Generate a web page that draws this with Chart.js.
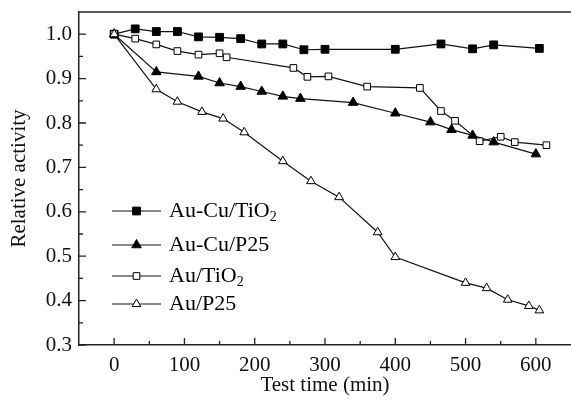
<!DOCTYPE html>
<html>
<head>
<meta charset="utf-8">
<script src="https://cdn.jsdelivr.net/npm/chart.js@4.4.0/dist/chart.umd.min.js"></script>
<style>
  html, body { margin: 0; padding: 0; background: #fff; }
  #wrap { width: 571px; height: 410px; }
</style>
</head>
<body>
<div id="wrap"><canvas id="activityChart" width="571" height="410"></canvas></div>
<script>
// Values
const auCuTiO2X = [0, 30, 60, 90, 120, 150, 180, 210, 240, 270, 300, 400, 465, 510, 540, 605];
const auCuTiO2Y = [1.0, 1.012, 1.006, 1.006, 0.994, 0.993, 0.99, 0.978, 0.978, 0.965, 0.966, 0.966, 0.978, 0.967, 0.976, 0.968];

const auCuP25X = [0, 60, 120, 150, 180, 210, 240, 265, 340, 400, 450, 480, 510, 540, 600];
const auCuP25Y = [1.0, 0.915, 0.905, 0.89, 0.882, 0.871, 0.86, 0.855, 0.846, 0.822, 0.802, 0.785, 0.772, 0.757, 0.73];

const auTiO2X = [0, 30, 60, 90, 120, 150, 160, 255, 275, 305, 360, 435, 465, 485, 520, 550, 570, 615];
const auTiO2Y = [1.0, 0.99, 0.977, 0.962, 0.954, 0.957, 0.948, 0.924, 0.904, 0.905, 0.882, 0.879, 0.827, 0.805, 0.759, 0.769, 0.757, 0.75];

const auP25X = [0, 60, 90, 125, 155, 185, 240, 280, 320, 375, 400, 500, 530, 560, 590, 605];
const auP25Y = [1.0, 0.876, 0.848, 0.825, 0.81, 0.779, 0.714, 0.669, 0.633, 0.554, 0.498, 0.44, 0.428, 0.402, 0.388, 0.378];

const seriesNames = ["Au-Cu/TiO2", "Au-Cu/P25", "Au/TiO2", "Au/P25"];
const xTicks = [0, 100, 200, 300, 400, 500, 600];
const xMinorTicks = [50, 150, 250, 350, 450, 550];
const yTicks = [0.3, 0.4, 0.5, 0.6, 0.7, 0.8, 0.9, 1.0];
const yMinorTicks = [0.35, 0.45, 0.55, 0.65, 0.75, 0.85, 0.95];

const serif = "'Liberation Serif', 'Times New Roman', serif";
const ink = "#111";

function toPoints(xs, ys) {
  return xs.map((x, i) => ({ x: x, y: ys[i] }));
}

const styles = [
  { pointStyle: "rect", fill: "#000", radius: 5.5 },
  { pointStyle: "triangle", fill: "#000", radius: 5.5 },
  { pointStyle: "rect", fill: "#fff", radius: 4.7 },
  { pointStyle: "triangle", fill: "#fff", radius: 5 },
];

const rawData = [
  toPoints(auCuTiO2X, auCuTiO2Y),
  toPoints(auCuP25X, auCuP25Y),
  toPoints(auTiO2X, auTiO2Y),
  toPoints(auP25X, auP25Y),
];

const datasets = rawData.map((pts, i) => ({
  label: seriesNames[i],
  data: pts,
  showLine: true,
  borderColor: ink,
  borderWidth: 1.2,
  pointStyle: styles[i].pointStyle,
  pointRadius: styles[i].radius,
  pointBackgroundColor: styles[i].fill,
  pointBorderColor: "#000",
  pointBorderWidth: 1,
  order: 4 - i,
}));

// inward ticks, top frame line and the in-plot legend
const framePlugin = {
  id: "framePlugin",
  afterDraw(chart) {
    const ctx = chart.ctx;
    const area = chart.chartArea;
    const xs = chart.scales.x;
    const ys = chart.scales.y;
    ctx.save();
    ctx.strokeStyle = "#222";
    ctx.lineWidth = 1.5;
    ctx.beginPath();
    ctx.moveTo(area.left, area.top);
    ctx.lineTo(area.right, area.top);
    ctx.stroke();

    ctx.lineWidth = 1.3;
    ctx.beginPath();
    xTicks.forEach((v) => {
      const px = xs.getPixelForValue(v);
      ctx.moveTo(px, area.bottom);
      ctx.lineTo(px, area.bottom - 7);
    });
    xMinorTicks.forEach((v) => {
      const px = xs.getPixelForValue(v);
      ctx.moveTo(px, area.bottom);
      ctx.lineTo(px, area.bottom - 4);
    });
    yTicks.forEach((v) => {
      const py = ys.getPixelForValue(v);
      ctx.moveTo(area.left, py);
      ctx.lineTo(area.left + 7, py);
    });
    yMinorTicks.forEach((v) => {
      const py = ys.getPixelForValue(v);
      ctx.moveTo(area.left, py);
      ctx.lineTo(area.left + 4, py);
    });
    ctx.stroke();

    // legend
    const rowY = [211, 245, 276, 304];
    const lineX0 = 112, lineX1 = 161, textX = 169;
    chart.data.datasets.forEach((ds, i) => {
      const y = rowY[i];
      ctx.strokeStyle = ink;
      ctx.lineWidth = 1.2;
      ctx.beginPath();
      ctx.moveTo(lineX0, y);
      ctx.lineTo(lineX1, y);
      ctx.stroke();
      ctx.fillStyle = ds.pointBackgroundColor;
      ctx.strokeStyle = "#000";
      ctx.lineWidth = 1;
      Chart.helpers.drawPoint(ctx, {
        pointStyle: ds.pointStyle,
        radius: ds.pointRadius,
        borderWidth: 1,
        rotation: 0,
      }, (lineX0 + lineX1) / 2, y);

      ctx.fillStyle = "#000";
      ctx.textBaseline = "middle";
      ctx.textAlign = "left";
      const name = ds.label;
      const hasSub = name.endsWith("2") && name.indexOf("TiO") >= 0;
      const main = hasSub ? name.slice(0, -1) : name;
      ctx.font = "22px " + serif;
      ctx.fillText(main, textX, y);
      if (hasSub) {
        const w = ctx.measureText(main).width;
        ctx.font = "14px " + serif;
        ctx.fillText("2", textX + w, y + 6);
      }
    });
    ctx.restore();
  },
};

new Chart(document.getElementById("activityChart").getContext("2d"), {
  type: "scatter",
  data: { datasets: datasets },
  options: {
    responsive: false,
    animation: false,
    layout: { autoPadding: false, padding: { top: 12, right: 0, left: 0, bottom: 0 } },
    plugins: {
      legend: { display: false },
      tooltip: { enabled: false },
    },
    scales: {
      x: {
        type: "linear",
        min: -50,
        max: 650,
        afterBuildTicks: (scale) => {
          scale.ticks = xTicks.map((v) => ({ value: v }));
        },
        afterFit: (scale) => {
          scale.height = 65;
          scale.paddingLeft = 0;
          scale.paddingRight = 0;
        },
        grid: { display: false, drawTicks: false },
        border: { display: true, color: "#222", width: 1.5 },
        ticks: {
          padding: 8,
          color: ink,
          font: { family: serif, size: 21 },
          maxRotation: 0,
        },
        title: {
          display: true,
          text: "Test time (min)",
          color: ink,
          font: { family: serif, size: 21 },
          padding: { top: 0, bottom: 12 },
        },
      },
      y: {
        type: "linear",
        min: 0.3,
        max: 1.05,
        afterBuildTicks: (scale) => {
          scale.ticks = yTicks.map((v) => ({ value: v }));
        },
        afterFit: (scale) => {
          scale.width = 79;
          scale.paddingTop = 0;
          scale.paddingBottom = 0;
        },
        grid: { display: false, drawTicks: false },
        border: { display: true, color: "#222", width: 1.5 },
        ticks: {
          padding: 7,
          color: ink,
          font: { family: serif, size: 21 },
          callback: (v) => Number(v).toFixed(1),
        },
        title: {
          display: true,
          text: "Relative activity",
          color: ink,
          font: { family: serif, size: 21 },
          padding: { top: 7, bottom: 0 },
        },
      },
    },
  },
  plugins: [framePlugin],
});
</script>
</body>
</html>
